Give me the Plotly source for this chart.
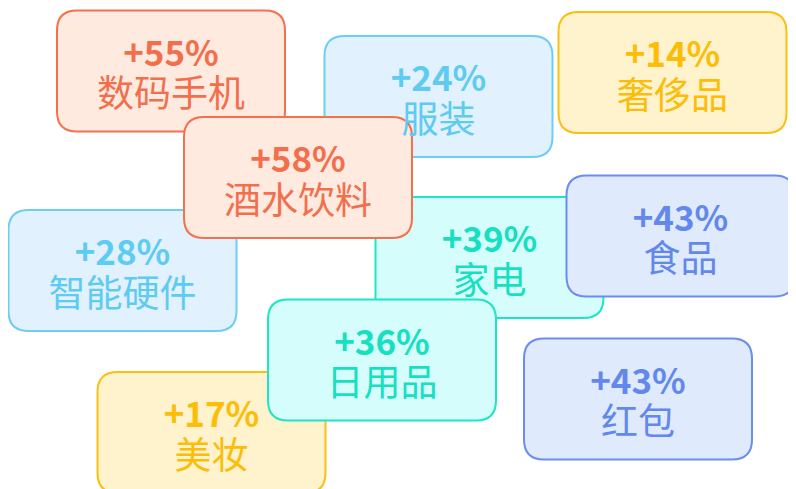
import plotly.graph_objects as go

# 品类增长
categories = ["数码手机", "服装", "奢侈品", "智能硬件", "家电", "食品", "美妆", "红包", "酒水饮料", "日用品"]
growth = [55, 24, 14, 28, 39, 43, 17, 43, 58, 36]
palette_key = ["salmon", "sky", "gold", "sky", "cyan", "blue", "gold", "blue", "salmon", "cyan"]

# 卡片中心位置 (画布像素)
center_x = [171, 438.5, 672.5, 122.5, 489.5, 680.5, 211.5, 638, 298, 382]
center_y = [71, 96.5, 72.5, 270.5, 257.5, 236, 432.5, 399, 177.5, 360]

PALETTE = {
    "salmon": dict(line="#f4714f", fill="#feeadf", text="#f26f4e"),
    "sky": dict(line="#6dcdf2", fill="#e1f1fd", text="#5ecbf2"),
    "gold": dict(line="#fbbf12", fill="#fef3cc", text="#fbbd07"),
    "cyan": dict(line="#1de5c5", fill="#d5fdfc", text="#16e0c0"),
    "blue": dict(line="#6b8ded", fill="#dfeafd", text="#6388eb"),
}

W, H = 796, 489
PAD = 8  # 页面默认边距
BOX_W, BOX_H, R = 228, 121, 20


def rounded_rect(cx, cy, w=BOX_W, h=BOX_H, r=R):
    x0, x1 = cx - w / 2, cx + w / 2
    y0, y1 = cy - h / 2, cy + h / 2
    return (
        f"M {x0 + r},{y0} L {x1 - r},{y0} Q {x1},{y0} {x1},{y0 + r} "
        f"L {x1},{y1 - r} Q {x1},{y1} {x1 - r},{y1} "
        f"L {x0 + r},{y1} Q {x0},{y1} {x0},{y1 - r} "
        f"L {x0},{y0 + r} Q {x0},{y0} {x0 + r},{y0} Z"
    )


fig = go.Figure()

shapes = []
for cx, cy, key in zip(center_x, center_y, palette_key):
    c = PALETTE[key]
    shapes.append(dict(
        type="path", path=rounded_rect(cx, cy), xref="x", yref="y",
        line=dict(color=c["line"], width=2), fillcolor=c["fill"], layer="below",
    ))

text_colors = [PALETTE[k]["text"] for k in palette_key]

# 增长率 (粗体) 与品类名分两行
fig.add_trace(go.Scatter(
    x=center_x, y=[y - 14 for y in center_y], mode="text",
    text=[f"+{g}%" for g in growth], textposition="middle center",
    textfont=dict(family="Noto Sans CJK SC", size=35, color=text_colors, weight="bold"),
    hoverinfo="skip", showlegend=False,
))
fig.add_trace(go.Scatter(
    x=center_x, y=[y + 27 for y in center_y], mode="text",
    text=categories, textposition="middle center",
    textfont=dict(family="Noto Sans CJK SC", size=37, color=text_colors),
    hoverinfo="skip", showlegend=False,
))

fig.update_layout(
    width=W - PAD, height=H - PAD,
    margin=dict(l=0, r=0, t=0, b=0),
    paper_bgcolor="white", plot_bgcolor="white",
    shapes=shapes,
    xaxis=dict(range=[PAD, W], visible=False, fixedrange=True),
    yaxis=dict(range=[H, PAD], visible=False, fixedrange=True),
)

fig.write_html("out.html")
